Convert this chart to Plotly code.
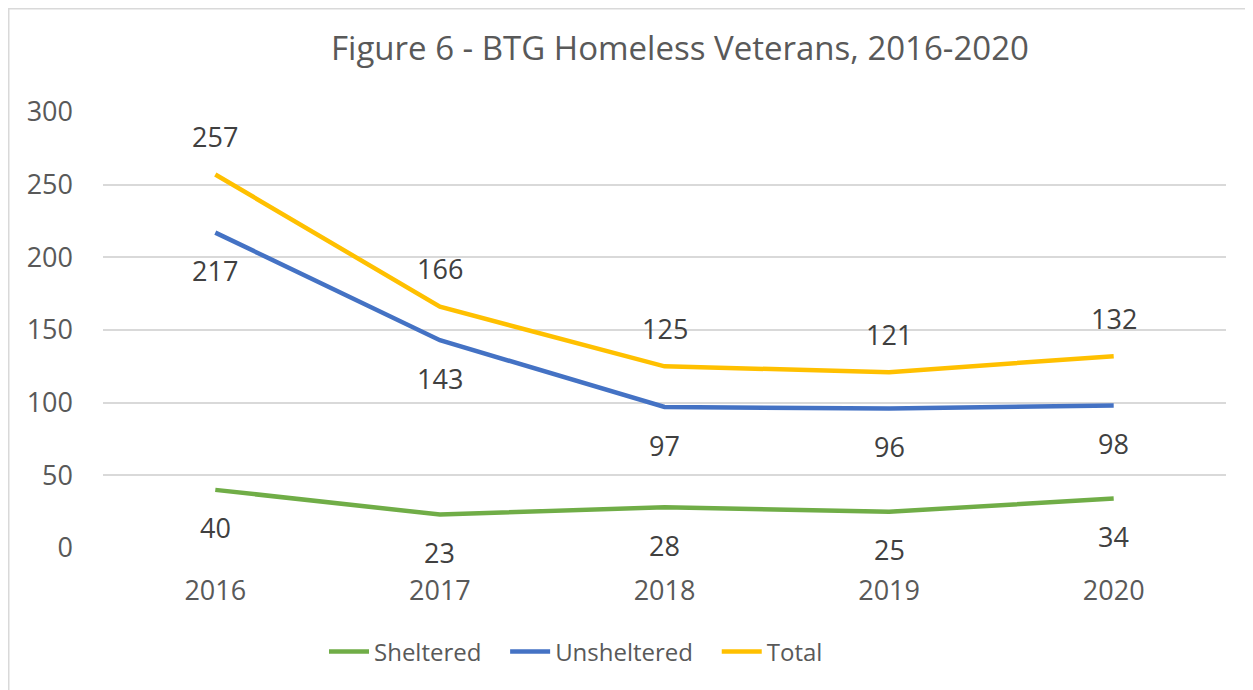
import plotly.graph_objects as go

years = ["2016", "2017", "2018", "2019", "2020"]
sheltered = [40, 23, 28, 25, 34]
unsheltered = [217, 143, 97, 96, 98]
total = [257, 166, 125, 121, 132]
y_ticks = [0, 50, 100, 150, 200, 250, 300]

FONT = "Open Sans"
OFF = 8  # default page body margin
W, H = 1253 - OFF, 690 - OFF
# plot area in page pixels: x 103..1226, y 112..548
L, T = 103 - OFF, 112 - OFF
R, B = W - (1226 - OFF), H - (548 - OFF)
PW, PH = W - L - R, H - T - B

GAP = "\u00a0\u00a0\u00a0"
series = [
    ("Sheltered", sheltered, "#70AD47", -38, GAP),
    ("Unsheltered", unsheltered, "#4472C4", -38, GAP),
    ("Total", total, "#FFC000", 38, ""),
]

fig = go.Figure()
annotations = []
for name, vals, color, shift, pad in series:
    fig.add_trace(go.Scatter(
        x=years, y=vals, name=name + pad, mode="lines",
        line=dict(color=color, width=4.5),
    ))
    for i, v in enumerate(vals):
        annotations.append(dict(
            x=i, y=v, xref="x", yref="y", text=str(v), showarrow=False,
            yanchor="middle", yshift=shift,
            font=dict(family=FONT, size=27, color="#404040"),
        ))

fig.update_layout(
    width=W, height=H,
    margin=dict(l=L, r=R, t=T, b=B, autoexpand=False),
    paper_bgcolor="white", plot_bgcolor="white",
    title=dict(
        text="Figure 6 - BTG Homeless Veterans, 2016-2020",
        x=(680 - OFF) / W, xanchor="center", xref="container",
        y=1 - (48 - OFF) / H, yanchor="middle", yref="container",
        font=dict(family=FONT, size=33, color="#595959"),
    ),
    showlegend=True,
    legend=dict(
        orientation="h", x=(576 - 103) / PW, xanchor="center",
        y=-(652 - 548) / PH, yanchor="middle",
        font=dict(family=FONT, size=24, color="#595959"),
        bgcolor="rgba(0,0,0,0)", itemwidth=40,
    ),
    annotations=annotations,
)
fig.update_xaxes(
    type="category", range=[-0.5, 4.5], showgrid=False, showline=False,
    zeroline=False,
    tickfont=dict(family=FONT, size=27, color="#595959"),
    ticks="", ticklabelstandoff=24,
)
fig.update_yaxes(
    range=[0, 300], tickvals=y_ticks, showgrid=True, gridcolor="#D9D9D9",
    gridwidth=1.5, zeroline=False, showline=False,
    tickfont=dict(family=FONT, size=27, color="#595959"),
    ticks="", ticklabelstandoff=29,
)
# chart border (left and top edges visible)
fig.add_shape(type="rect", xref="paper", yref="paper",
              x0=(0.75 - L) / PW, x1=(W + 20 - L) / PW,
              y0=-(H + 20 - (H - B)) / PH, y1=1 + (T - 0.75) / PH,
              line=dict(color="#D9D9D9", width=1.5), layer="below")

fig.write_html("out.html")
